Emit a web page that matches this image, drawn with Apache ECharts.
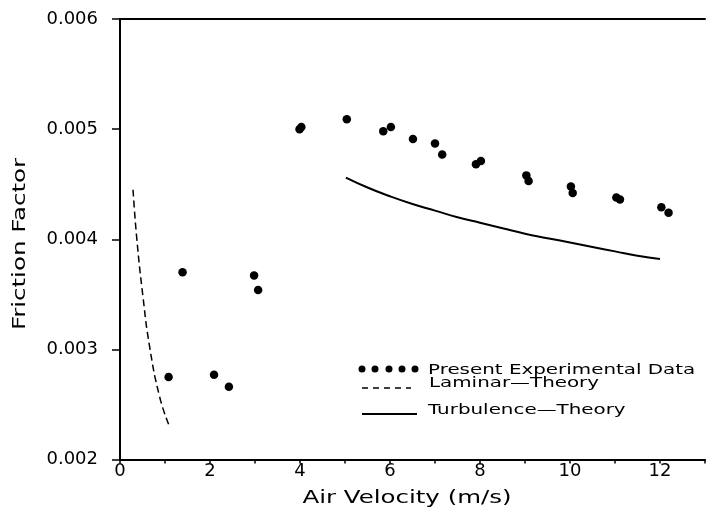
<!DOCTYPE html>
<html>
<head>
<meta charset="utf-8">
<script src="https://cdn.jsdelivr.net/npm/echarts@6/dist/echarts.min.js"></script>
<style>
  html, body { margin: 0; padding: 0; background: #fff; }
  #chart { width: 708px; height: 511px; }
</style>
</head>
<body>
<div id="chart"></div>
<script>
// Measured friction factor against air velocity
const experimentalData = [
  [1.08, 0.00275], [1.39, 0.00370], [2.09, 0.00277], [2.42, 0.00266],
  [2.98, 0.00367], [3.07, 0.00354], [3.99, 0.00500], [4.03, 0.00502],
  [5.04, 0.00509], [5.85, 0.00498], [6.02, 0.00502], [6.51, 0.00491],
  [7.00, 0.00487], [7.16, 0.00477], [7.91, 0.00468], [8.02, 0.00471],
  [9.03, 0.00458], [9.08, 0.00453], [10.02, 0.00448], [10.06, 0.00442],
  [11.03, 0.00438], [11.11, 0.00436], [12.03, 0.00429], [12.19, 0.00424]
];

// Laminar-flow prediction
const laminarTheory = [
  [0.29, 0.00445], [0.37, 0.00402], [0.51, 0.00348], [0.66, 0.00302],
  [0.88, 0.00257], [1.08, 0.00232]
];

// Turbulent-flow prediction
const turbulenceTheory = [
  [5.02, 0.00456], [5.5, 0.00447], [6.0, 0.00439], [6.5, 0.00432],
  [7.0, 0.00426], [7.5, 0.00420], [8.0, 0.00415], [8.5, 0.00410],
  [9.0, 0.00405], [9.5, 0.00401], [10.0, 0.00397], [10.5, 0.00393],
  [11.0, 0.00389], [11.5, 0.00385], [12.0, 0.00382]
];

const legendLabels = ['Present Experimental Data', 'Laminar\u2014Theory', 'Turbulence\u2014Theory'];
const xTitle = 'Air Velocity (m/s)';
const yTitle = 'Friction Factor';

const FONT = '"DejaVu Sans", "Liberation Sans", sans-serif';
const INK = '#000';
// the lettering is set wide, so text is stretched horizontally
const WIDE = 1.36;
const WIDE_KEY = 1.42;

const chart = echarts.init(document.getElementById('chart'), null, { renderer: 'canvas' });

const legendDots = [362, 375, 389, 402, 415].map(x => ({
  type: 'circle',
  shape: { cx: x, cy: 369, r: 3.5 },
  style: { fill: INK }
}));

function legendText(label, x, baseline) {
  return {
    type: 'text', x: x, y: baseline, scaleX: WIDE_KEY,
    style: { text: label, font: '14px ' + FONT, fill: INK, align: 'left', verticalAlign: 'bottom' }
  };
}

chart.setOption({
  backgroundColor: '#fff',
  animation: false,
  grid: { left: 120, top: 19, right: -3.5, bottom: 51.5, containLabel: false },
  xAxis: [{
    type: 'value',
    position: 'bottom',
    min: 0, max: 13, interval: 2,
    axisLine: { show: true, lineStyle: { color: INK, width: 2 } },
    axisTick: { show: true, length: 4, lineStyle: { color: INK, width: 1.5 } },
    minorTick: { show: true, splitNumber: 2, length: 4, lineStyle: { color: INK, width: 1.5 } },
    axisLabel: {
      fontFamily: FONT, fontSize: 18, color: INK, margin: 3,
      formatter: v => (v % 2 === 0 && v <= 12) ? String(v) : ''
    },
    splitLine: { show: false }
  }, {
    type: 'value',
    position: 'top',
    min: 0, max: 13,
    axisLine: { show: true, lineStyle: { color: INK, width: 2 } },
    axisTick: { show: false },
    axisLabel: { show: false },
    splitLine: { show: false }
  }],
  yAxis: {
    type: 'value',
    min: 0.002, max: 0.006, interval: 0.001,
    axisLine: { show: true, lineStyle: { color: INK, width: 2 } },
    axisTick: { show: true, length: 8, lineStyle: { color: INK, width: 1.5 } },
    axisLabel: {
      fontFamily: FONT, fontSize: 18, color: INK, margin: 22,
      formatter: v => v.toFixed(3)
    },
    splitLine: { show: false }
  },
  series: [{
    name: legendLabels[0],
    type: 'scatter',
    data: experimentalData,
    symbol: 'circle',
    symbolSize: 8.5,
    itemStyle: { color: INK, opacity: 1 }
  }, {
    name: legendLabels[1],
    type: 'line',
    data: laminarTheory,
    smooth: true,
    showSymbol: false,
    lineStyle: { color: INK, width: 1.5, type: [7, 4] }
  }, {
    name: legendLabels[2],
    type: 'line',
    data: turbulenceTheory,
    smooth: true,
    showSymbol: false,
    lineStyle: { color: INK, width: 2 }
  }],
  graphic: [
    // axis titles
    {
      type: 'text', x: 407, y: 498, scaleX: WIDE,
      style: { text: xTitle, font: '18px ' + FONT, fill: INK, align: 'center', verticalAlign: 'middle' }
    },
    {
      type: 'text', x: 20, y: 244, scaleX: WIDE, rotation: Math.PI / 2,
      style: { text: yTitle, font: '18px ' + FONT, fill: INK, align: 'center', verticalAlign: 'middle' }
    },
    // key
    ...legendDots,
    {
      type: 'line',
      shape: { x1: 362, y1: 388, x2: 411, y2: 388 },
      style: { stroke: INK, lineWidth: 1.5, lineDash: [6, 5] }
    },
    {
      type: 'line',
      shape: { x1: 362, y1: 414, x2: 417, y2: 414 },
      style: { stroke: INK, lineWidth: 2 }
    },
    legendText(legendLabels[0], 428, 377),
    legendText(legendLabels[1], 429, 390),
    legendText(legendLabels[2], 428, 417)
  ]
});
</script>
</body>
</html>
